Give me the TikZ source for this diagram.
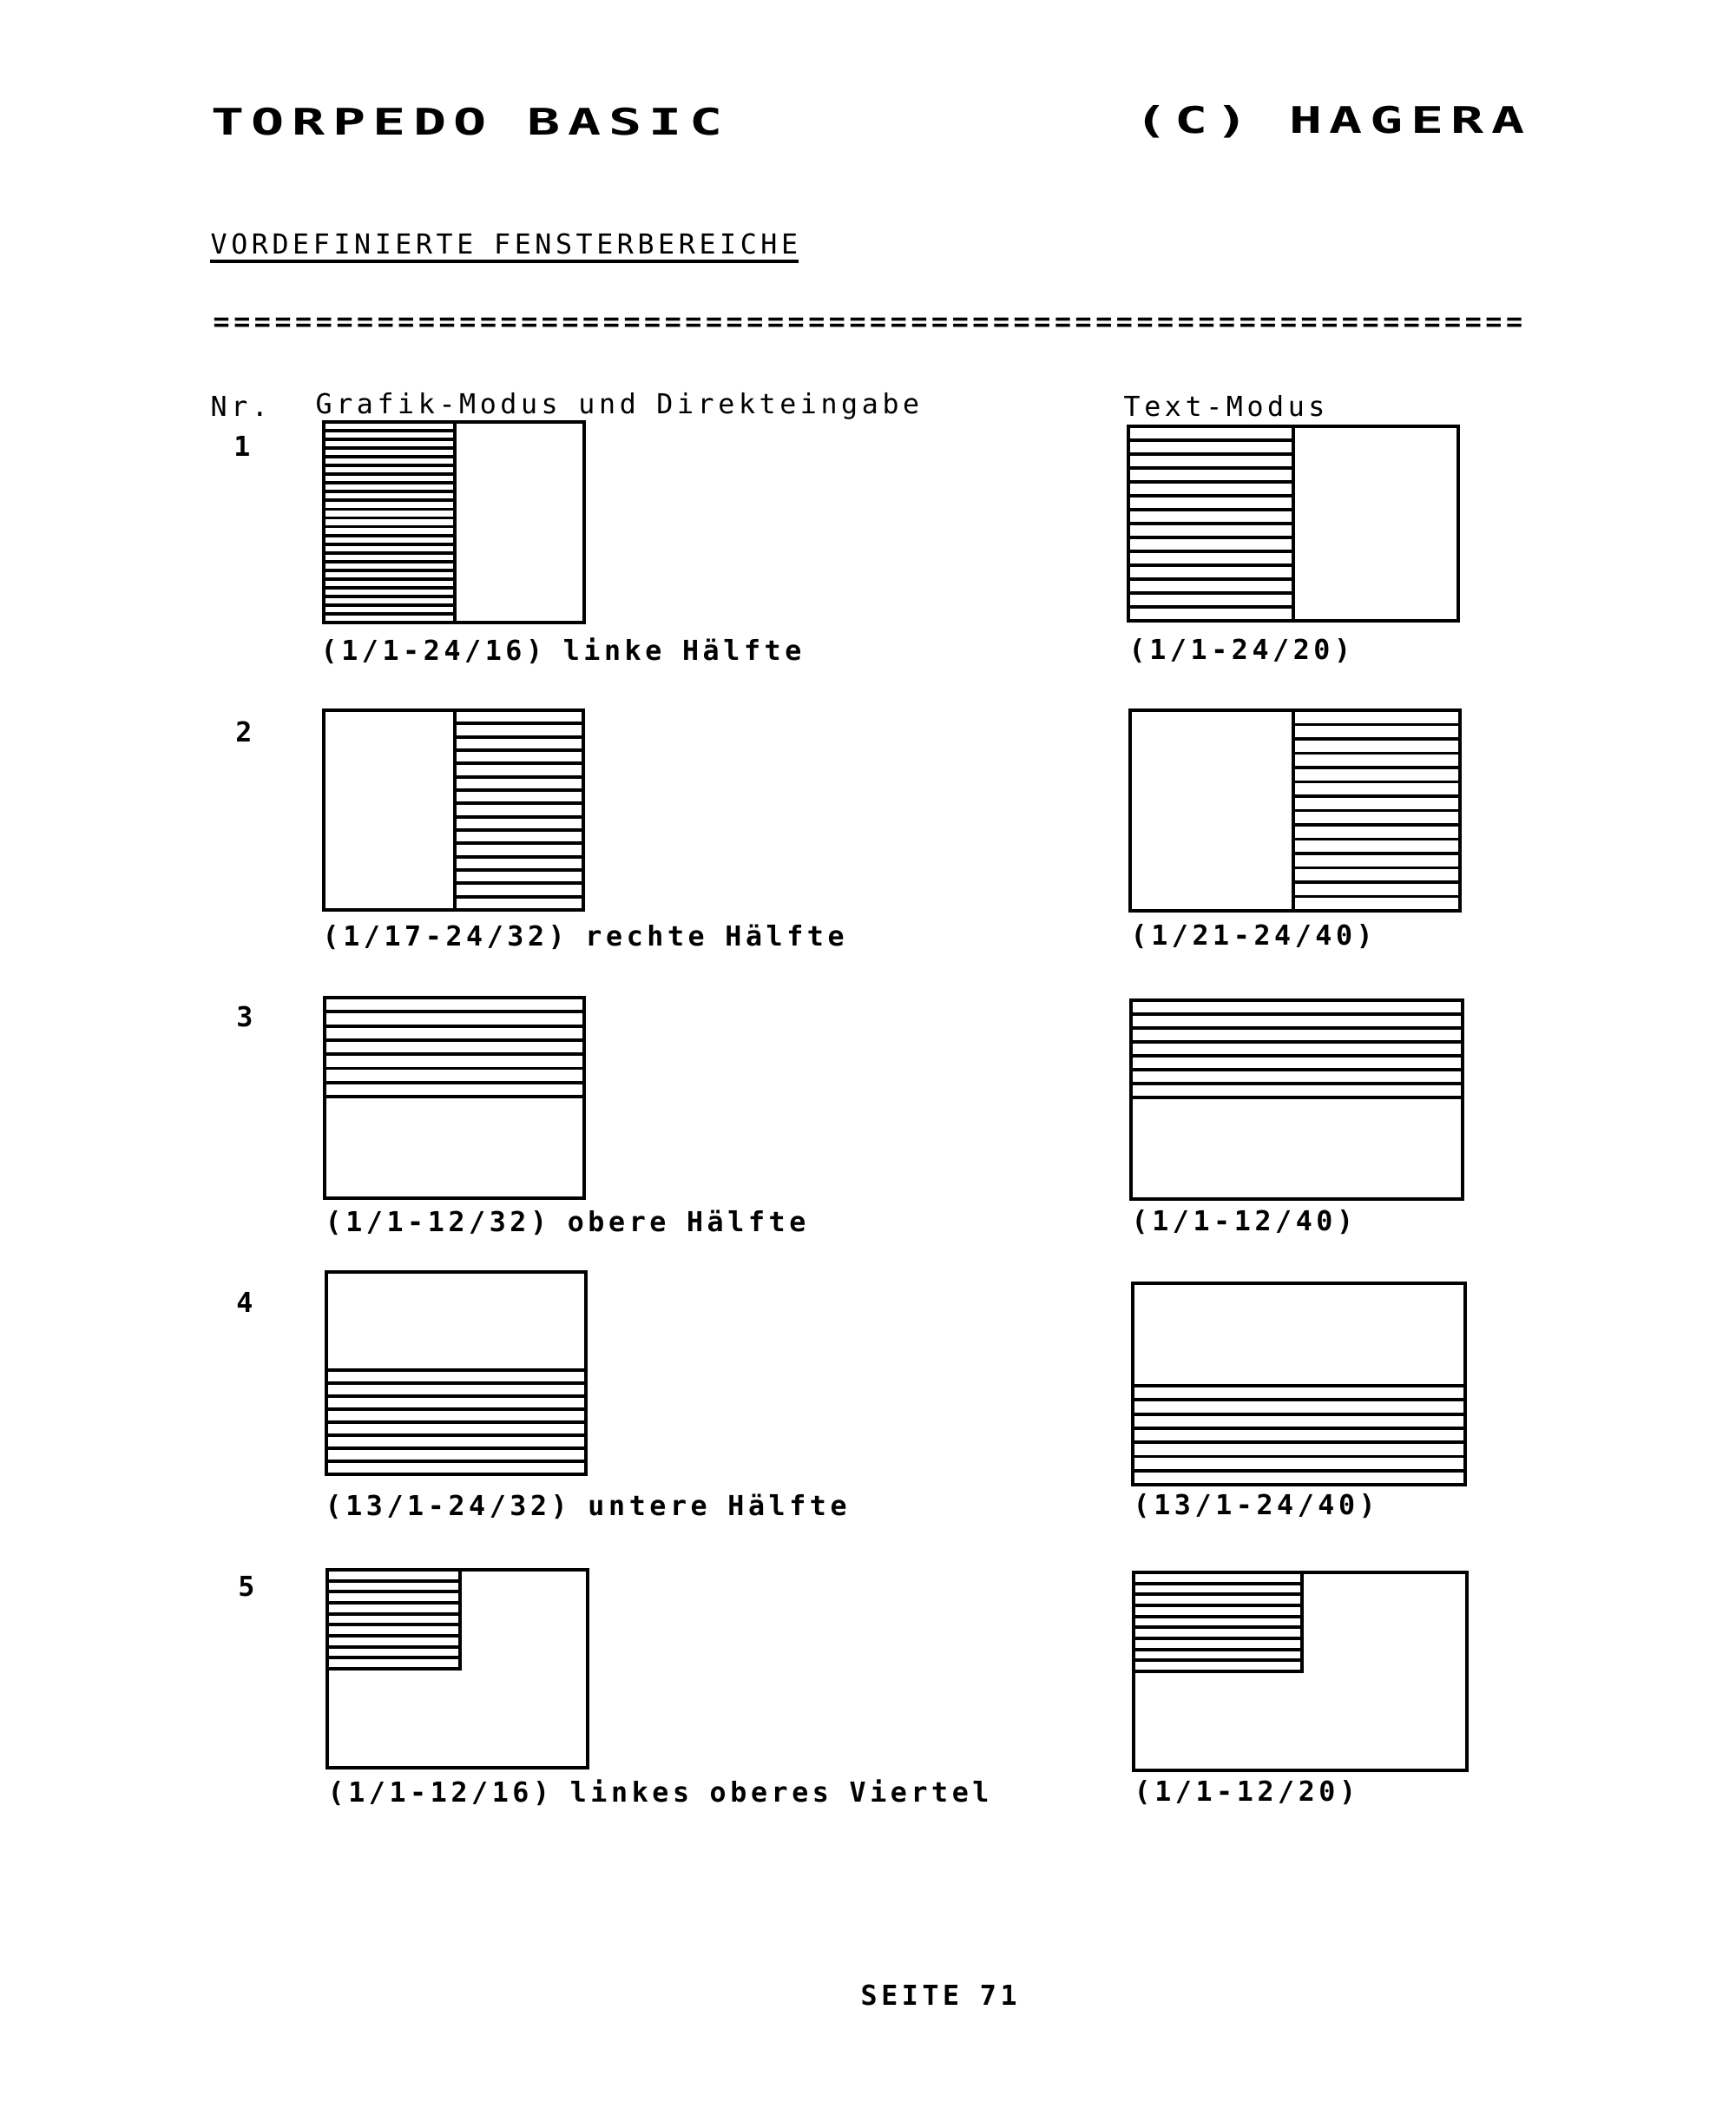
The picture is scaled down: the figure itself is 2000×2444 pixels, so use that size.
\documentclass[tikz,border=0pt]{standalone}
\usepackage{fontspec}
\newfontfamily\punktschrift[LetterSpace=14.5]{DejaVu Sans Mono}
\newfontfamily\kopfschrift[LetterSpace=13.5]{DejaVu Sans Mono}
\begin{document}
\begin{tikzpicture}[x=0.01cm,y=-0.01cm,
  every node/.style={inner sep=0pt,anchor=west,font=\punktschrift\fontsize{9}{11}\selectfont},
  fett/.style={font=\punktschrift\bfseries\fontsize{9}{11}\selectfont},
  kopf/.style={font=\kopfschrift\bfseries\fontsize{12}{14}\selectfont,xscale=1.5},
  rand/.style={line width=1.4pt},
  schraffur/.style={line width=1.1pt}]
\useasboundingbox[fill=white] (0,0) rectangle (2000,2444);
% Kopfzeile
\node[kopf] (kopflinks) at (242,140) {TORPEDO BASIC};
\node[kopf] (kopfrechts) at (1306,140) {(C) HAGERA};
\node (titel) at (242,281) {VORDEFINIERTE FENSTERBEREICHE};
\draw[line width=1.1pt] ([yshift=-0.7mm]titel.south west) -- ([yshift=-0.7mm]titel.south east);
\node[fett] (trenner) at (245,374) {================================================================};
\node (spnr) at (242,468) {Nr.};
\node (spgrafik) at (363,468) {Grafik-Modus und Direkteingabe};
\node (sptext) at (1294,468) {Text-Modus};
% Nummern und Beschriftungen
\foreach \nr/\xn/\yn/\xl/\xr/\yc/\links/\rechts in {
  1/279/514/369/1300/750/{(1/1-24/16) linke Hälfte}/{(1/1-24/20)},
  2/281/843/371/1302/1079/{(1/17-24/32) rechte Hälfte}/{(1/21-24/40)},
  3/282/1171/374/1303/1408/{(1/1-12/32) obere Hälfte}/{(1/1-12/40)},
  4/282/1500/374/1305/1735/{(13/1-24/32) untere Hälfte}/{(13/1-24/40)},
  5/284/1827/377/1306/2065/{(1/1-12/16) linkes oberes Viertel}/{(1/1-12/20)}} {
  \node[fett,anchor=center] (nr\nr) at (\xn,\yn) {\nr};
  \node[fett] (capl\nr) at (\xl,\yc) {\links};
  \node[fett] (capr\nr) at (\xr,\yc) {\rechts};
}
% Fenster: Rahmen, schraffierter Bereich, Anzahl Streifen
\foreach \xa/\ya/\xb/\yb/\ha/\hb/\hc/\hd/\n in {
  373/486/673/717/373/486/524/717/23,
  1300/491/1680/715/1300/491/1490/715/14,
  373/818/672/1048/524/818/672/1048/15,
  1302/818/1682/1049/1490/818/1682/1049/14,
  374/1149/673/1380/374/1149/673/1263/7,
  1303/1152/1685/1381/1303/1152/1685/1264/7,
  376/1465/675/1698/376/1578/675/1698/8,
  1305/1478/1688/1710/1305/1596/1688/1710/7,
  377/1808/677/2036/377/1808/530/1922/9,
  1306/1811/1690/2039/1306/1811/1500/1925/9} {
  \draw[rand] (\xa,\ya) rectangle (\xb,\yb);
  \draw[rand] (\ha,\hb) rectangle (\hc,\hd);
  \pgfmathtruncatemacro{\m}{\n-1}
  \foreach \k in {1,...,\m} {
    \draw[schraffur] (\ha,{\hb+\k*(\hd-\hb)/\n}) -- (\hc,{\hb+\k*(\hd-\hb)/\n});
  }
}
\node[fett] (seite) at (991,2298) {SEITE 71};
\end{tikzpicture}
\end{document}
